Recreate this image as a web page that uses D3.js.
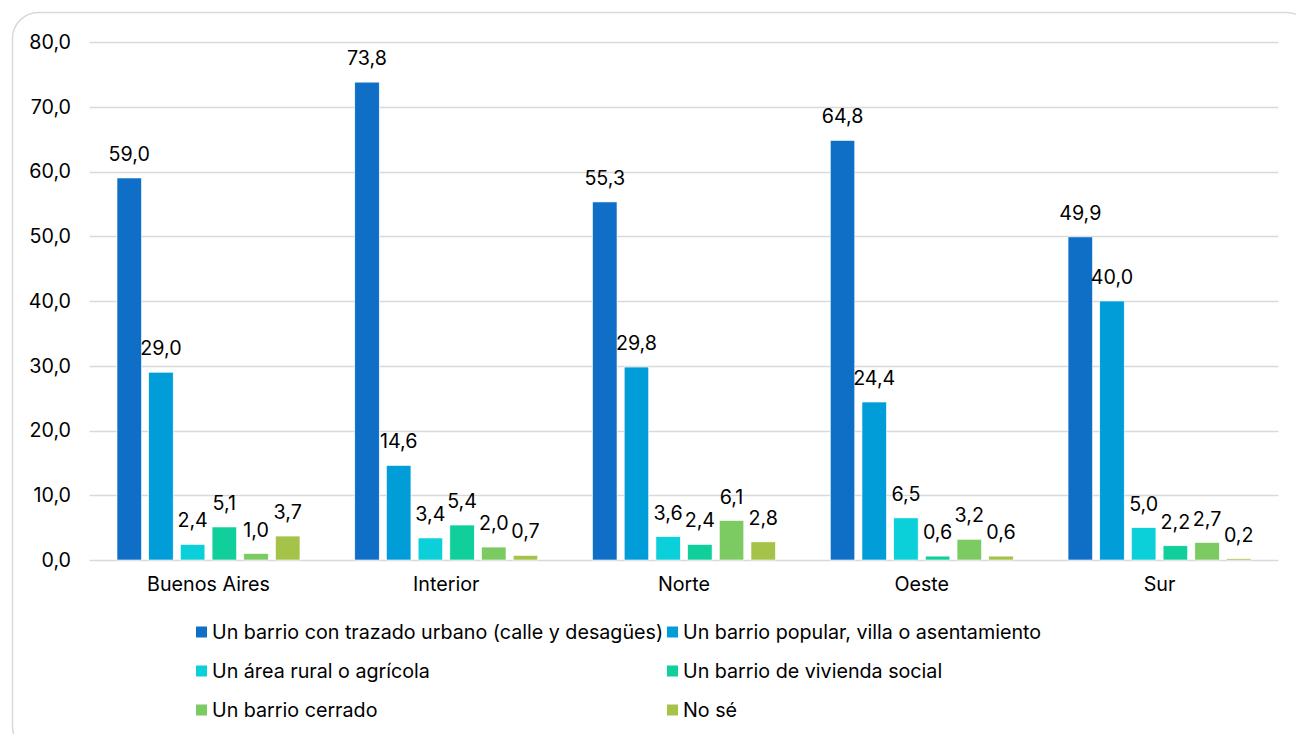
<!DOCTYPE html>
<html>
<head>
<meta charset="utf-8">
<script src="https://cdn.jsdelivr.net/npm/d3@7"></script>
<style>
  html, body { margin: 0; padding: 0; background: #fff; }
  svg { display: block; }
  text { font-family: Inter, "Liberation Sans", Arial, sans-serif; fill: #000; }
</style>
</head>
<body>
<script>
const categories = ["Buenos Aires", "Interior", "Norte", "Oeste", "Sur"];
const seriesNames = [
  "Un barrio con trazado urbano (calle y desagües)",
  "Un barrio popular, villa o asentamiento",
  "Un área rural o agrícola",
  "Un barrio de vivienda social",
  "Un barrio cerrado",
  "No sé"
];
const urbano   = [59.0, 73.8, 55.3, 64.8, 49.9];
const popular  = [29.0, 14.6, 29.8, 24.4, 40.0];
const rural    = [2.4, 3.4, 3.6, 6.5, 5.0];
const social   = [5.1, 5.4, 2.4, 0.6, 2.2];
const cerrado  = [1.0, 2.0, 6.1, 3.2, 2.7];
const nose     = [3.7, 0.7, 2.8, 0.6, 0.2];
const seriesValues = [urbano, popular, rural, social, cerrado, nose];
const yTicks = [0, 10, 20, 30, 40, 50, 60, 70, 80];
const colors = ["#0F6FC6", "#009DD9", "#0BD0D9", "#10CF9B", "#7CCA62", "#A5C249"];

const W = 1296, H = 734;
const FS = 19.7;
const svg = d3.select("body").append("svg").attr("width", W).attr("height", H);

// frame
svg.append("rect")
  .attr("x", 12.5).attr("y", 12.5)
  .attr("width", 1300).attr("height", 740)
  .attr("rx", 26).attr("ry", 26)
  .attr("fill", "#fff").attr("stroke", "#d9d9d9").attr("stroke-width", 1.5);

const mLeft = 89.6, mRight = 1278.4, mTop = 42, mBottom = 560;
const fmt = v => d3.format(".1f")(v).replace(".", ",");

const y = d3.scaleLinear().domain([0, 80]).range([mBottom, mTop]);
const x0 = d3.scaleBand().domain(categories).range([mLeft, mRight]).padding(0);
const groupPad = 27.4;
const x1 = d3.scaleBand().domain(d3.range(seriesNames.length))
  .range([groupPad, x0.bandwidth() - groupPad]).paddingInner(0.227).paddingOuter(0);

// gridlines
svg.append("g").selectAll("line").data(yTicks).join("line")
  .attr("x1", mLeft).attr("x2", mRight)
  .attr("y1", d => Math.round(y(d)) + 0.5).attr("y2", d => Math.round(y(d)) + 0.5)
  .attr("stroke", "#d9d9d9").attr("stroke-width", 1.5);

// y axis labels
const yAxis = d3.axisLeft(y).tickValues(yTicks).tickFormat(fmt).tickSize(0).tickPadding(0);
const gy = svg.append("g").attr("transform", `translate(71,0)`).call(yAxis);
gy.select(".domain").remove();
gy.selectAll("text").attr("font-size", FS).attr("font-family", "Inter, 'Liberation Sans', Arial, sans-serif").attr("fill", "#000");

// x axis labels
const xAxis = d3.axisBottom(x0).tickSize(0).tickPadding(0);
const gx = svg.append("g").attr("transform", `translate(0,${mBottom + 17})`).call(xAxis);
gx.select(".domain").remove();
gx.selectAll("text").attr("font-size", FS).attr("font-family", "Inter, 'Liberation Sans', Arial, sans-serif").attr("fill", "#000");

// bars
const flat = [];
categories.forEach((c, ci) => {
  seriesValues.forEach((vals, si) => flat.push({ c, si, v: vals[ci] }));
});

svg.append("g").selectAll("rect").data(flat).join("rect")
  .attr("x", d => x0(d.c) + x1(d.si))
  .attr("y", d => y(d.v))
  .attr("width", x1.bandwidth())
  .attr("height", d => y(0) - y(d.v))
  .attr("fill", d => colors[d.si])
  .attr("stroke", "#fff").attr("stroke-width", 0.6);

// value labels
svg.append("g").selectAll("text").data(flat).join("text")
  .attr("x", d => x0(d.c) + x1(d.si) + x1.bandwidth() / 2)
  .attr("y", d => y(d.v) - 17)
  .attr("text-anchor", "middle")
  .attr("font-size", FS)
  .text(d => fmt(d.v));

// legend
const legendPos = [
  [196, 632], [667, 632],
  [196, 671], [667, 671],
  [196, 710], [667, 710]
];
const lg = svg.append("g").selectAll("g").data(seriesNames).join("g")
  .attr("transform", (d, i) => `translate(${legendPos[i][0]},${legendPos[i][1]})`);
lg.append("rect").attr("x", 0).attr("y", -5.5).attr("width", 11).attr("height", 11)
  .attr("fill", (d, i) => colors[i]);
lg.append("text").attr("x", 16).attr("y", 0).attr("dy", "0.35em")
  .attr("font-size", FS).text(d => d);
</script>
</body>
</html>
